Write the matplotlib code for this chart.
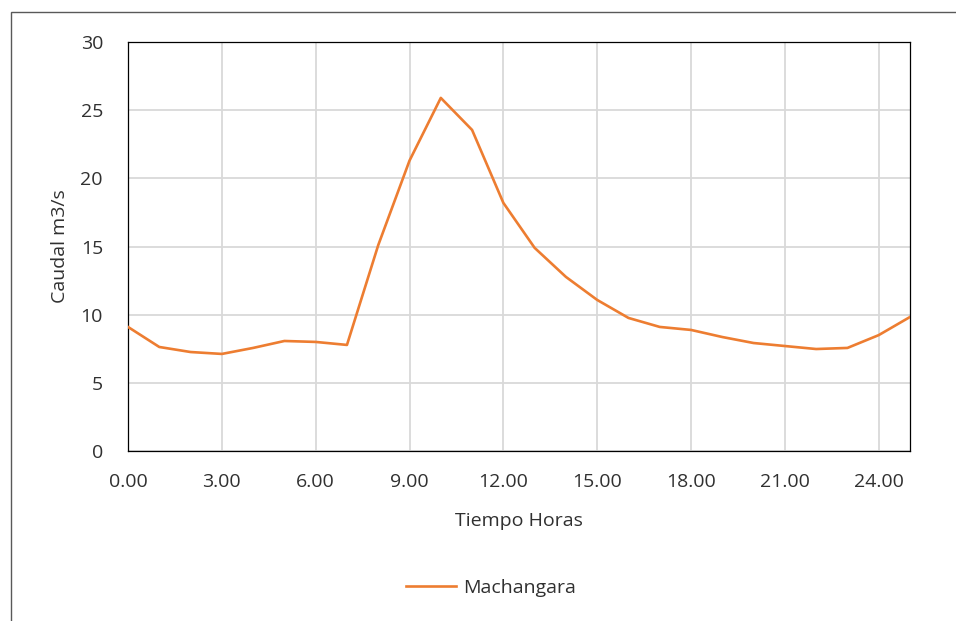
import matplotlib
matplotlib.use("Agg")
import matplotlib.pyplot as plt
from matplotlib.patches import Rectangle

hours = list(range(26))
caudal = [9.1, 7.63, 7.26, 7.12, 7.56, 8.07, 8.0, 7.78, 15.1, 21.3, 25.9, 23.55,
          18.2, 14.9, 12.77, 11.08, 9.76, 9.1, 8.88, 8.36, 7.92, 7.7, 7.48, 7.56,
          8.5, 9.83]
series_name = "Machangara"
xticks = [0, 3, 6, 9, 12, 15, 18, 21, 24]
yticks = [0, 5, 10, 15, 20, 25, 30]

plt.rcParams['font.family'] = ['Open Sans', 'DejaVu Sans']
FS = 14
TC = "#303030"

fig = plt.figure(figsize=(9.56, 6.21), dpi=100)
ax = fig.add_axes([128/956, 1-451/621, (910-128)/956, (451-42)/621])

ax.plot(hours, caudal, color="#ED7D31", lw=1.9, label=series_name, zorder=3)
ax.set_xlim(0, 25)
ax.set_ylim(0, 30)
ax.set_xticks(xticks)
ax.set_xticklabels([f"{t:.2f}" for t in xticks])
ax.set_yticks(yticks)
ax.grid(True, color="#D9D9D9", lw=1.3)
ax.set_axisbelow(True)
for s in ax.spines.values():
    s.set_color("#000000")
    s.set_linewidth(0.9)
ax.tick_params(axis='x', length=0, labelsize=FS, colors=TC, pad=16)
ax.tick_params(axis='y', length=0, labelsize=FS, colors=TC, pad=18)
ax.set_xlabel("Tiempo Horas", fontsize=FS, color=TC, labelpad=15)
ax.set_ylabel("Caudal m3/s", fontsize=FS, color=TC, labelpad=8)

leg = fig.legend(loc="center", bbox_to_anchor=(491/956, 1-588/621), frameon=False,
                 fontsize=FS, handlelength=2.6, handletextpad=0.35)
for t in leg.get_texts():
    t.set_color(TC)

fig.patches.append(Rectangle((11/956, -0.05), 1.2, 1-12/621+0.05, transform=fig.transFigure,
                             fill=False, edgecolor="#595959", lw=1.0))

fig.savefig("out.png", dpi=100)
